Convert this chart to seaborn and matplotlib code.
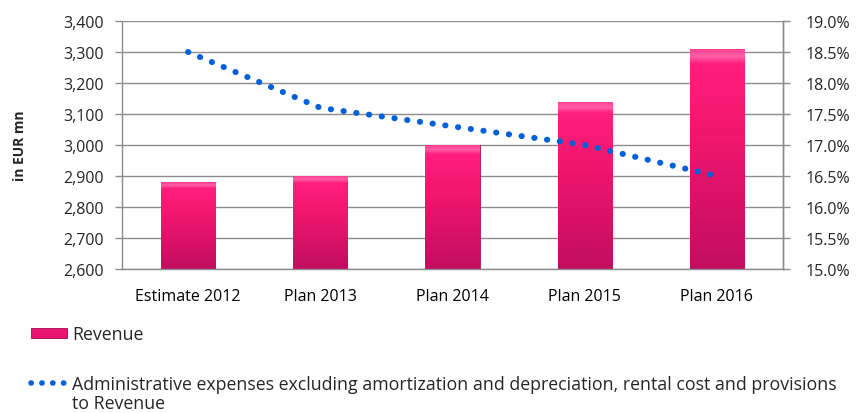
import numpy as np
import pandas as pd
import matplotlib
matplotlib.use("Agg")
import matplotlib.pyplot as plt
import seaborn as sns
from matplotlib.ticker import FuncFormatter, MultipleLocator, FixedLocator
from matplotlib.colors import LinearSegmentedColormap
from matplotlib.patches import Rectangle
from matplotlib.lines import Line2D

# data
categories = ["Estimate 2012", "Plan 2013", "Plan 2014", "Plan 2015", "Plan 2016"]
revenue = [2880, 2900, 3000, 3140, 3310]
admin_ratio = [18.5, 17.6, 17.3, 17.0, 16.5]
ratio_label = ["Administrative expenses excluding amortization and depreciation, rental cost and provisions",
               "to Revenue"]

df = pd.DataFrame({"period": categories, "revenue": revenue, "ratio": admin_ratio})

sns.set_theme(style="white")
plt.rcParams["font.family"] = ["Open Sans", "DejaVu Sans"]

fig = plt.figure(figsize=(8.63, 4.14), dpi=100)
ax = fig.add_axes([122 / 863, 1 - 270 / 414, 661 / 863, 248 / 414])

sns.barplot(data=df, x="period", y="revenue", color="#F0186E", width=0.41,
            saturation=1, edgecolor="#B30E58", linewidth=0.6, ax=ax)

# vertical gradient inside each bar (pink top, deeper magenta at the bottom)
grad_cmap = LinearSegmentedColormap.from_list(
    "bar", [(0, "#C20E60"), (0.65, "#F3176F"), (0.93, "#FF1F7C"), (0.965, "#FF5FA5"), (1, "#FF3D8E")])
grad = np.linspace(0, 1, 256).reshape(-1, 1)
for p in ax.patches:
    x0, y0 = p.get_x(), p.get_y()
    w, h = p.get_width(), p.get_height()
    im = ax.imshow(grad, cmap=grad_cmap, origin="lower", aspect="auto",
                   extent=[x0, x0 + w, 2600, y0 + h], zorder=p.get_zorder() + 0.1)
    im.set_clip_path(p)

ax.set_xlim(-0.5, len(categories) - 0.5)
ax.set_ylim(2600, 3400)
ax.yaxis.set_major_locator(MultipleLocator(100))
ax.yaxis.set_major_formatter(FuncFormatter(lambda v, _: f"{v:,.0f}"))
ax.grid(axis="y", color="#8C8C8C", linewidth=1.0)
ax.set_axisbelow(True)
ax.set_xlabel("")
ax.set_ylabel("in EUR mn", fontsize=10, fontweight="bold", labelpad=26)

# category boundary ticks on x axis, no ticks at labels
ax.xaxis.set_minor_locator(FixedLocator(np.arange(-0.5, len(categories), 1.0)))
ax.tick_params(axis="x", which="major", length=0, labelsize=11.5, pad=14, colors="black")
ax.tick_params(axis="x", which="minor", length=5, width=1, color="#8C8C8C", direction="out")
ax.tick_params(axis="y", length=5, width=1, color="#8C8C8C", labelsize=11.5, pad=8, left=True)

ax.spines["top"].set_visible(False)
for side in ["left", "right", "bottom"]:
    ax.spines[side].set_color("#8C8C8C")
    ax.spines[side].set_linewidth(1.0)

ax2 = ax.twinx()
sns.lineplot(data=df, x="period", y="ratio", ax=ax2, color="#0060D8", linewidth=4.3,
             sort=False)
line = ax2.get_lines()[0]
line.set_dashes([0.05, 2.1])
line.set_dash_capstyle("round")
ax2.set_ylim(15.0, 19.0)
ax2.yaxis.set_major_locator(MultipleLocator(0.5))
ax2.yaxis.set_major_formatter(FuncFormatter(lambda v, _: f"{v:.1f}%"))
ax2.set_ylabel("")
ax2.set_xlabel("")
ax2.tick_params(axis="y", length=5, width=1, color="#8C8C8C", labelsize=11.5, pad=11, right=True)
ax2.grid(False)
for side in ["top", "left", "bottom"]:
    ax2.spines[side].set_visible(False)
ax2.spines["right"].set_color("#8C8C8C")
ax2.spines["right"].set_linewidth(1.0)

# legend below the plot; the dotted handle sits next to the first text line
bar_handle = Rectangle((0, 0), 1, 1, facecolor="#E8166C", edgecolor="#A00C50", linewidth=0.6)
line_handle = Line2D([0], [0], color="#0060D8", linewidth=4.0, dashes=[0.05, 1.9],
                     dash_capstyle="round")
leg = fig.legend([bar_handle, line_handle], ["Revenue", ratio_label[0]],
                 loc="upper left", bbox_to_anchor=(0.036, 0.212), frameon=False,
                 fontsize=12.8, handlelength=2.0, handleheight=0.55, handletextpad=0.3,
                 labelspacing=1.8, borderaxespad=0, borderpad=0)

fig.canvas.draw()
bb = leg.get_texts()[1].get_window_extent().transformed(fig.transFigure.inverted())
fig.text(bb.x0, bb.y0 - 19 / 414, ratio_label[1], fontsize=12.8, ha="left", va="bottom")

fig.savefig("out.png", dpi=100)
